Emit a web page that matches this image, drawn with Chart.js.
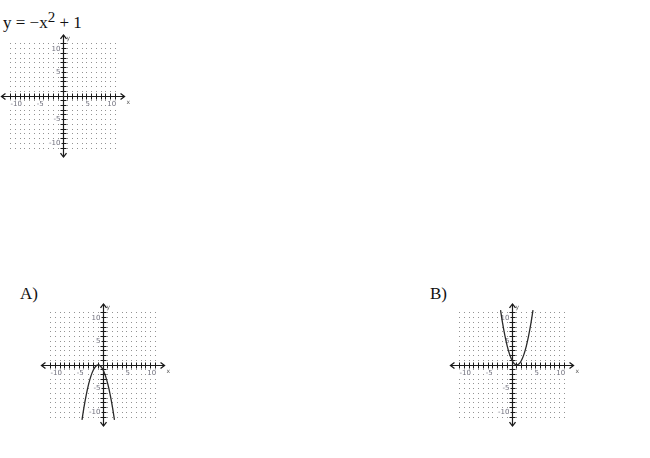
<!DOCTYPE html>
<html>
<head>
<meta charset="utf-8">
<script src="https://cdn.jsdelivr.net/npm/chart.js@4"></script>
<style>
  html, body { margin: 0; padding: 0; background: #fff; }
  body { width: 650px; height: 458px; position: relative; overflow: hidden; }
  .txt { position: absolute; font-family: "Liberation Serif", "Times New Roman", serif; font-size: 17px; line-height: 17px; color: #111; white-space: nowrap; }
  .txt sup { font-size: 15px; vertical-align: 6px; line-height: 0; }
  .box { position: absolute; width: 150px; height: 140px; }
  .box canvas { display: block; }
</style>
</head>
<body>
<div class="txt" style="left:3px; top:14px;">y = &minus;x<sup>2</sup> + 1</div>
<div class="txt" style="left:20px; top:285px;">A)</div>
<div class="txt" style="left:430px; top:285px;">B)</div>

<div class="box" style="left:-12px; top:26px;"><canvas id="c0" width="150" height="140"></canvas></div>
<div class="box" style="left:28px; top:295px;"><canvas id="c1" width="150" height="140"></canvas></div>
<div class="box" style="left:437px; top:295px;"><canvas id="c2" width="150" height="140"></canvas></div>

<script>
// ---- data ----
const xTickValues = [-10, -5, 5, 10];
const xTickLabels = ["-10", "-5", "5", "10"];
const yTickValues = [10, 5, -5, -10];
const yTickLabels = ["10", "5", "-5", "-10"];

// Option A curve (downward parabola, vertex near (-1, 0))
const curveAx = [-4.4, -4, -3.5, -3, -2.5, -2, -1.5, -1, -0.5, 0, 0.5, 1, 1.5, 2, 2.4];
const curveAy = [-11.6, -9, -6.25, -4, -2.25, -1, -0.25, 0, -0.25, -1, -2.25, -4, -6.25, -9, -11.6];

// Option B curve (upward parabola, vertex near (1, 0))
const curveBx = [-2.4, -2, -1.5, -1, -0.5, 0, 0.5, 1, 1.5, 2, 2.5, 3, 3.5, 4, 4.4];
const curveBy = [11.6, 9, 6.25, 4, 2.25, 1, 0.25, 0, 0.25, 1, 2.25, 4, 6.25, 9, 11.6];

// ---- layout ----
const X_HALF = 75 / 4.77;   // canvas half-width in units
const Y_HALF = 70 / 4.73;   // canvas half-height in units
const GRID_MIN = -11, GRID_MAX = 11;
const AXIS_END = 12.9;

const coordPlugin = {
  id: 'coordPlane',
  beforeDatasetsDraw(chart) {
    const ctx = chart.ctx;
    const xs = chart.scales.x, ys = chart.scales.y;
    const px = v => Math.floor(xs.getPixelForValue(v));
    const py = v => Math.floor(ys.getPixelForValue(v));
    const ox = px(0) + 0.5, oy = py(0) + 0.5;
    ctx.save();
    // dotted grid
    ctx.fillStyle = '#939393';
    for (let i = GRID_MIN; i <= GRID_MAX; i++) {
      for (let j = GRID_MIN; j <= GRID_MAX; j++) {
        ctx.fillRect(px(i), py(j), 1, 1);
      }
    }
    // axes
    ctx.strokeStyle = '#1a1a1a';
    ctx.lineWidth = 1.2;
    ctx.beginPath();
    ctx.moveTo(xs.getPixelForValue(-AXIS_END), oy);
    ctx.lineTo(xs.getPixelForValue(AXIS_END), oy);
    ctx.moveTo(ox, ys.getPixelForValue(AXIS_END));
    ctx.lineTo(ox, ys.getPixelForValue(-AXIS_END));
    ctx.stroke();
    // tick marks
    ctx.lineWidth = 1;
    ctx.beginPath();
    for (let i = GRID_MIN; i <= GRID_MAX; i++) {
      if (i === 0) continue;
      const tx = px(i) + 0.5;
      ctx.moveTo(tx, oy - 3); ctx.lineTo(tx, oy + 3);
      const ty = py(i) + 0.5;
      ctx.moveTo(ox - 3, ty); ctx.lineTo(ox + 3, ty);
    }
    ctx.stroke();
    // arrow heads
    ctx.lineWidth = 1.3;
    const l = xs.getPixelForValue(-AXIS_END), r = xs.getPixelForValue(AXIS_END);
    const t = ys.getPixelForValue(AXIS_END), b = ys.getPixelForValue(-AXIS_END);
    ctx.beginPath();
    ctx.moveTo(l + 4, oy - 3); ctx.lineTo(l, oy); ctx.lineTo(l + 4, oy + 3);
    ctx.moveTo(r - 4, oy - 3); ctx.lineTo(r, oy); ctx.lineTo(r - 4, oy + 3);
    ctx.moveTo(ox - 3, t + 4); ctx.lineTo(ox, t); ctx.lineTo(ox + 3, t + 4);
    ctx.moveTo(ox - 3, b - 4); ctx.lineTo(ox, b); ctx.lineTo(ox + 3, b - 4);
    ctx.stroke();
    // tick labels
    ctx.font = '7px "DejaVu Sans", sans-serif';
    ctx.textBaseline = 'middle';
    xTickValues.forEach((v, k) => {
      const s = xTickLabels[k];
      const w = ctx.measureText(s).width;
      const cx = xs.getPixelForValue(v) + 1;
      ctx.fillStyle = '#fff';
      ctx.fillRect(cx - w / 2 - 1, oy + 4, w + 2, 8);
      ctx.fillStyle = '#6f6f7c';
      ctx.textAlign = 'center';
      ctx.fillText(s, cx, oy + 7.5);
    });
    yTickValues.forEach((v, k) => {
      const s = yTickLabels[k];
      const w = ctx.measureText(s).width;
      const cy = ys.getPixelForValue(v);
      ctx.fillStyle = '#fff';
      ctx.fillRect(ox - 3 - w - 1, cy - 4, w + 2, 8);
      ctx.fillStyle = '#6f6f7c';
      ctx.textAlign = 'right';
      ctx.fillText(s, ox - 3, cy);
    });
    // axis names
    ctx.fillStyle = '#555';
    ctx.font = '6px "DejaVu Sans", sans-serif';
    ctx.textAlign = 'left';
    ctx.fillText('x', r + 2, oy + 6);
    ctx.fillText('y', ox + 3, t + 3);
    ctx.restore();
  }
};

function makeChart(id, xsArr, ysArr) {
  const pts = xsArr ? xsArr.map((x, i) => ({ x: x, y: ysArr[i] })) : [];
  return new Chart(document.getElementById(id), {
    type: 'scatter',
    data: {
      datasets: [{
        data: pts,
        showLine: true,
        pointRadius: 0,
        borderColor: '#2a2a2a',
        borderWidth: 1.3,
        tension: 0.4,
        fill: false
      }]
    },
    options: {
      responsive: false,
      devicePixelRatio: 1,
      animation: false,
      events: [],
      layout: { padding: 0 },
      plugins: { legend: { display: false }, tooltip: { enabled: false }, title: { display: false } },
      scales: {
        x: { type: 'linear', min: -X_HALF, max: X_HALF, display: false },
        y: { type: 'linear', min: -Y_HALF, max: Y_HALF, display: false }
      }
    },
    plugins: [coordPlugin]
  });
}

makeChart('c0', null, null);
makeChart('c1', curveAx, curveAy);
makeChart('c2', curveBx, curveBy);
</script>
</body>
</html>
